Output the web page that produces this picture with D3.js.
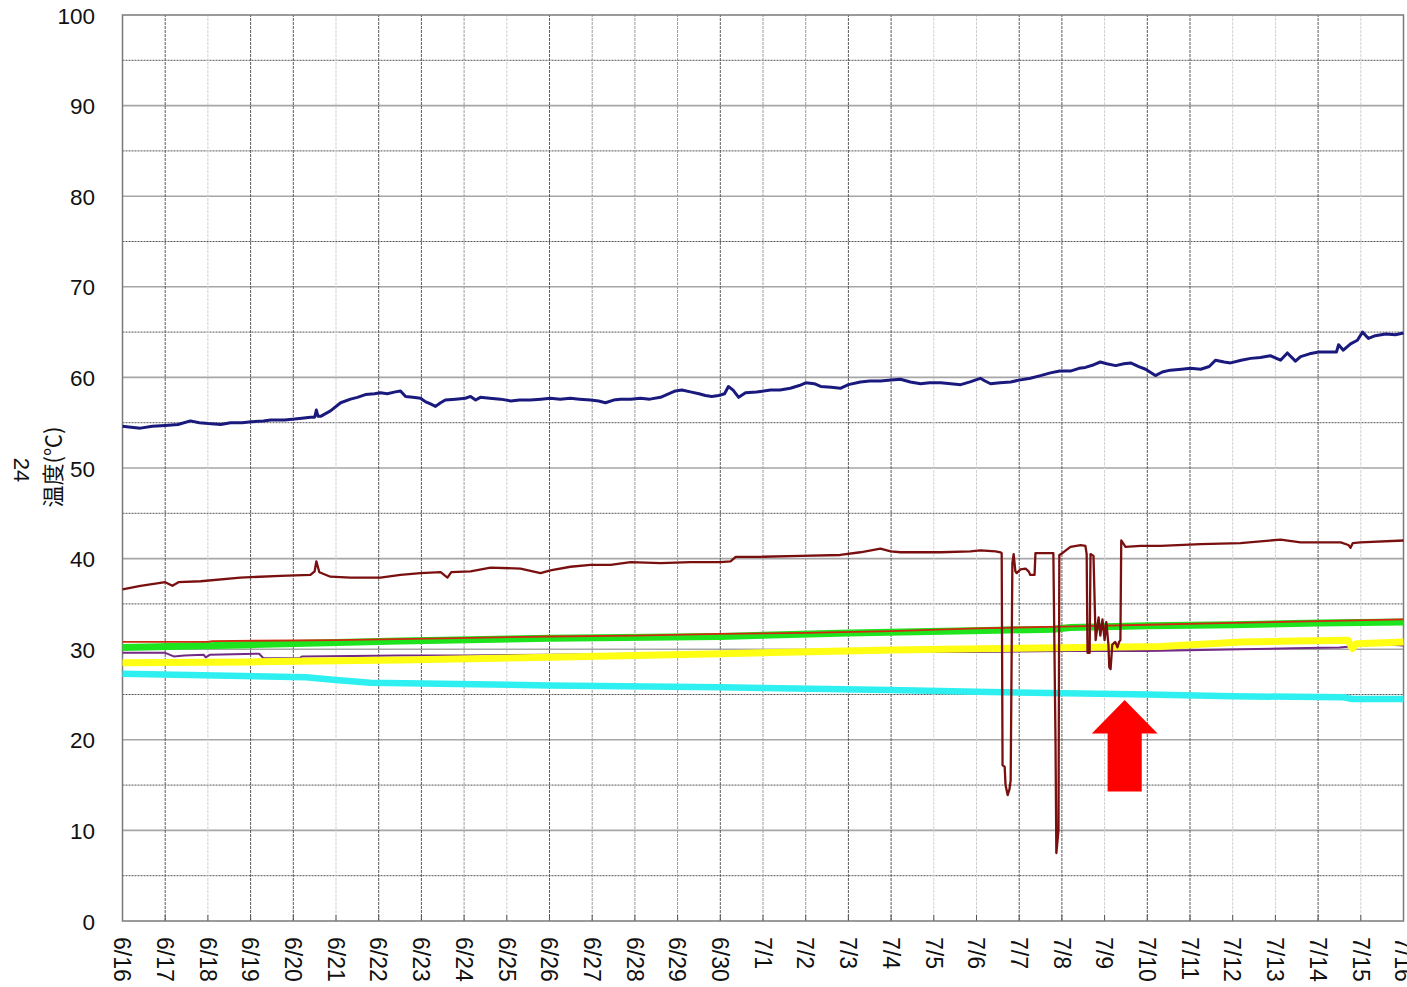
<!DOCTYPE html>
<html><head><meta charset="utf-8">
<script src="https://cdn.jsdelivr.net/npm/d3@7"></script>
<style>body{margin:0;background:#fff}svg{display:block}</style>
</head><body>
<script>
// ---- data (day offset from 6/16, temperature °C) ----
const dayLabels = ["6/16","6/17","6/18","6/19","6/20","6/21","6/22","6/23","6/24","6/25","6/26","6/27","6/28","6/29","6/30","7/1","7/2","7/3","7/4","7/5","7/6","7/7","7/8","7/9","7/10","7/11","7/12","7/13","7/14","7/15","7/16"];
const yTicks = [0,10,20,30,40,50,60,70,80,90,100];
const yLabel = "温度(℃)";
const sideLabel = "24";

const navy = [[0,54.6],[0.2,54.5],[0.42,54.4],[0.7,54.6],[1.0,54.7],[1.3,54.8],[1.59,55.2],[1.8,55.0],[2.01,54.9],[2.3,54.8],[2.53,55.0],[2.8,55.0],[3.02,55.1],[3.3,55.2],[3.47,55.3],[3.8,55.3],[4.03,55.4],[4.2,55.5],[4.4,55.6],[4.5,55.6],[4.54,56.4],[4.58,55.7],[4.64,55.7],[4.87,56.3],[5.11,57.2],[5.34,57.6],[5.5,57.8],[5.69,58.1],[5.9,58.2],[6.04,58.3],[6.2,58.2],[6.39,58.4],[6.51,58.5],[6.63,57.9],[6.8,57.8],[6.98,57.7],[7.1,57.3],[7.2,57.1],[7.33,56.8],[7.45,57.2],[7.56,57.5],[7.8,57.6],[8.03,57.7],[8.15,57.9],[8.27,57.5],[8.38,57.8],[8.6,57.7],[8.85,57.6],[9.09,57.4],[9.3,57.5],[9.55,57.5],[9.8,57.6],[10.02,57.7],[10.25,57.6],[10.49,57.7],[10.7,57.6],[10.96,57.5],[11.15,57.4],[11.31,57.2],[11.5,57.5],[11.66,57.6],[11.9,57.6],[12.13,57.7],[12.35,57.6],[12.6,57.8],[12.8,58.2],[12.95,58.5],[13.1,58.6],[13.3,58.4],[13.5,58.2],[13.65,58.0],[13.8,57.9],[13.96,58.0],[14.1,58.2],[14.19,59.0],[14.3,58.6],[14.43,57.8],[14.59,58.3],[14.85,58.4],[15.18,58.6],[15.4,58.6],[15.64,58.8],[15.85,59.1],[16.0,59.4],[16.2,59.3],[16.35,59.0],[16.6,58.9],[16.81,58.8],[17.0,59.2],[17.28,59.5],[17.5,59.6],[17.75,59.6],[18.0,59.7],[18.22,59.8],[18.45,59.5],[18.69,59.3],[18.9,59.4],[19.16,59.4],[19.4,59.3],[19.63,59.2],[19.85,59.5],[20.09,59.9],[20.2,59.6],[20.33,59.3],[20.55,59.4],[20.8,59.5],[21.0,59.7],[21.26,59.9],[21.5,60.2],[21.73,60.5],[21.95,60.7],[22.2,60.7],[22.4,61.0],[22.55,61.1],[22.75,61.4],[22.9,61.7],[23.05,61.5],[23.26,61.3],[23.45,61.5],[23.61,61.6],[23.8,61.2],[23.96,60.9],[24.19,60.2],[24.35,60.6],[24.54,60.8],[24.8,60.9],[25.01,61.0],[25.25,60.9],[25.45,61.2],[25.6,61.9],[25.8,61.7],[25.95,61.6],[26.2,61.9],[26.42,62.1],[26.65,62.2],[26.88,62.4],[27.12,61.9],[27.28,62.7],[27.47,61.8],[27.59,62.3],[27.8,62.6],[28.01,62.8],[28.2,62.8],[28.43,62.8],[28.48,63.6],[28.59,63.0],[28.76,63.7],[28.92,64.1],[29.04,65.0],[29.18,64.3],[29.34,64.6],[29.58,64.8],[29.81,64.7],[30.0,64.9]];

const maroon = [[0,36.6],[0.42,37.0],[1.0,37.4],[1.17,37.0],[1.31,37.4],[1.83,37.5],[2.76,37.9],[3.7,38.1],[4.4,38.2],[4.5,38.6],[4.54,39.7],[4.61,38.5],[4.87,38.0],[5.34,37.9],[6.04,37.9],[6.51,38.2],[6.98,38.4],[7.45,38.5],[7.61,37.9],[7.7,38.5],[8.15,38.6],[8.62,39.0],[9.32,38.9],[9.79,38.4],[10.02,38.7],[10.49,39.1],[10.96,39.3],[11.43,39.3],[11.9,39.6],[12.6,39.5],[13.3,39.6],[14.0,39.6],[14.24,39.7],[14.36,40.2],[14.94,40.2],[15.88,40.3],[16.81,40.4],[17.28,40.7],[17.75,41.1],[17.99,40.8],[18.22,40.7],[19.16,40.7],[19.86,40.8],[20.09,40.9],[20.45,40.8],[20.56,40.7],[20.59,40.6],[20.61,17.2],[20.66,17.0],[20.68,15.0],[20.73,13.9],[20.77,14.5],[20.8,15.5],[20.84,39.5],[20.87,40.5],[20.91,38.6],[20.94,38.4],[21.03,38.8],[21.15,38.9],[21.22,38.6],[21.26,38.2],[21.36,38.2],[21.38,40.6],[21.61,40.6],[21.8,40.6],[21.85,20.0],[21.87,7.5],[21.92,10.0],[21.94,40.4],[22.01,40.6],[22.2,41.3],[22.44,41.5],[22.55,41.4],[22.58,40.5],[22.6,29.6],[22.65,29.6],[22.67,40.5],[22.74,40.3],[22.79,31.0],[22.86,33.5],[22.9,31.5],[22.95,33.3],[23.0,31.0],[23.04,33.0],[23.09,30.5],[23.11,28.0],[23.14,27.8],[23.18,30.5],[23.25,30.8],[23.3,30.2],[23.34,30.8],[23.37,31.0],[23.39,42.0],[23.49,41.3],[23.84,41.4],[24.31,41.4],[25.25,41.6],[26.18,41.7],[27.12,42.1],[27.59,41.8],[28.53,41.8],[28.71,41.5],[28.76,41.2],[28.81,41.7],[28.99,41.8],[30.0,42.0]];

const redThin = [[0,30.8],[2,30.8],[2.1,30.9],[5,31.0],[7.5,31.2],[10,31.4],[12,31.5],[14,31.7],[16,31.8],[18,32.0],[20,32.3],[22,32.5],[24,32.7],[26,32.9],[28,33.1],[30,33.3]];
const green = [[0,30.2],[3,30.5],[6.5,30.9],[10,31.2],[14,31.4],[17,31.8],[20.5,32.1],[21.8,32.2],[22.2,32.4],[24,32.6],[26,32.7],[28,32.9],[30,33.0]];
const purple = [[0,29.6],[1.0,29.6],[1.2,29.2],[1.45,29.3],[1.9,29.4],[1.95,29.1],[2.05,29.4],[3.2,29.5],[3.3,29.0],[4.15,29.0],[4.2,29.2],[6.5,29.3],[8,29.3],[10,29.4],[12,29.5],[14,29.6],[16,29.6],[18,29.7],[20,29.7],[22,29.8],[24,29.8],[26.2,30.0],[27.4,30.1],[28.5,30.2],[28.76,30.3],[28.9,30.6],[29.1,30.4],[29.4,30.6],[29.7,30.5],[30,30.4]];
const yellow = [[0,28.5],[3,28.6],[6.5,28.8],[10,29.1],[14,29.5],[18,29.9],[21,30.1],[24.3,30.3],[26.2,30.8],[27.5,30.9],[28.7,31.0],[28.8,30.1],[28.9,30.6],[30,30.8]];
const cyan = [[0,27.3],[4.3,26.9],[5.0,26.6],[5.8,26.3],[10,26.0],[14,25.8],[18,25.5],[20,25.3],[24,25.0],[26,24.8],[28.6,24.7],[28.8,24.5],[30,24.5]];

// arrow annotation (day, temperature)
const arrowDay = 23.47, arrowTip = 24.4, arrowHeadBase = 20.7, arrowTail = 14.3, arrowHeadHalf = 0.77, arrowShaftHalf = 0.4;

// ---- chart ----
const W = 1407, H = 987;
const svg = d3.select("body").append("svg").attr("width", W).attr("height", H);
const x = d3.scaleLinear().domain([0, 30]).range([122.5, 1403.5]);
const y = d3.scaleLinear().domain([0, 100]).range([921, 15]);

const lightDays = [2,5,9,19,20,23,26,27,29];
const medDays = [8,11,12,13,15,16];
const g = svg.append("g");

// horizontal grid
d3.range(5, 100, 10).forEach(v => {
  g.append("line").attr("x1", x(0)).attr("x2", x(30)).attr("y1", y(v)).attr("y2", y(v))
    .attr("stroke", "#555").attr("stroke-width", 1).attr("stroke-dasharray", "2,1");
});
yTicks.slice(1, -1).forEach(v => {
  g.append("line").attr("x1", x(0)).attr("x2", x(30)).attr("y1", y(v)).attr("y2", y(v))
    .attr("stroke", "#a6a6a6").attr("stroke-width", 1.6);
});
// vertical grid
d3.range(1, 30).forEach(d => {
  const col = lightDays.includes(d) ? "#d0d0d0" : medDays.includes(d) ? "#9a9a9a" : "#5a5a5a";
  g.append("line").attr("x1", x(d)).attr("x2", x(d)).attr("y1", y(0)).attr("y2", y(100))
    .attr("stroke", col).attr("stroke-width", 1).attr("stroke-dasharray", "3,1");
  g.append("line").attr("x1", x(d)).attr("x2", x(d)).attr("y1", y(0)).attr("y2", y(0) - 6)
    .attr("stroke", "#555").attr("stroke-width", 1);
});
// border
g.append("rect").attr("x", x(0)).attr("y", y(100)).attr("width", x(30) - x(0)).attr("height", y(0) - y(100))
  .attr("fill", "none").attr("stroke", "#7a7a7a").attr("stroke-width", 1.5);

// y axis labels
const yAxis = d3.axisLeft(y).tickValues(yTicks).tickSize(0).tickPadding(0);
const ya = svg.append("g").attr("transform", "translate(95,0)").call(yAxis);
ya.select(".domain").remove();
ya.selectAll("text").attr("font-family", "'Liberation Sans', Arial, sans-serif").attr("font-size", 22.5).attr("fill", "#111").attr("dy", "0.36em").attr("x", 0);

// x labels
const xa = svg.append("g");
dayLabels.forEach((lab, i) => {
  xa.append("text").attr("transform", `translate(${x(i)},937) rotate(90)`)
    .attr("text-anchor", "start").attr("dy", "0.36em")
    .attr("font-family", "'Liberation Sans', Arial, sans-serif").attr("font-size", 23).attr("fill", "#111").text(lab);
});

// axis titles
svg.append("text").attr("transform", "translate(53,467) rotate(-90)").attr("text-anchor", "middle").attr("dy", "0.36em")
  .attr("font-family", "'Noto Sans CJK JP', sans-serif").attr("font-size", 22).attr("fill", "#111").text(yLabel);
svg.append("text").attr("transform", "translate(22,470) rotate(90)").attr("text-anchor", "middle").attr("dy", "0.36em")
  .attr("font-family", "'Liberation Sans', Arial, sans-serif").attr("font-size", 22).attr("fill", "#111").text(sideLabel);

// series
const line = d3.line().x(d => x(d[0])).y(d => y(d[1]));
const series = [
  {data: purple, color: "#732a86", w: 2},
  {data: cyan, color: "#2ff0f0", w: 6.5},
  {data: yellow, color: "#ffff14", w: 7},
  {data: green, color: "#1ee41e", w: 7},
  {data: redThin, color: "#d02a10", w: 1.8},
  {data: maroon, color: "#7a0f0f", w: 2.3},
  {data: navy, color: "#1a1a7e", w: 3}
];
const sg = svg.append("g");
series.forEach(s => {
  sg.append("path").datum(s.data).attr("d", line).attr("fill", "none")
    .attr("stroke", s.color).attr("stroke-width", s.w).attr("stroke-linejoin", "round").attr("stroke-linecap", "butt");
});

// arrow
const arrowPts = [
  [arrowDay, arrowTip],
  [arrowDay + arrowHeadHalf, arrowHeadBase],
  [arrowDay + arrowShaftHalf, arrowHeadBase],
  [arrowDay + arrowShaftHalf, arrowTail],
  [arrowDay - arrowShaftHalf, arrowTail],
  [arrowDay - arrowShaftHalf, arrowHeadBase],
  [arrowDay - arrowHeadHalf, arrowHeadBase]
];
svg.append("polygon").attr("points", arrowPts.map(p => [x(p[0]), y(p[1])].join(",")).join(" ")).attr("fill", "#ff0000");
</script>
</body></html>
